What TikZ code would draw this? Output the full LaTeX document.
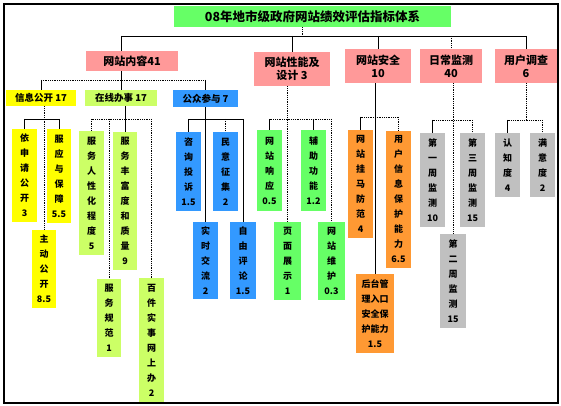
\documentclass[tikz,border=0pt]{standalone}
\usepackage{fontspec}
\newfontfamily\cjk{Noto Sans CJK SC}
\usetikzlibrary{backgrounds}
\definecolor{pk}{RGB}{255,153,153}
\definecolor{tg}{RGB}{102,255,102}
\definecolor{yl}{RGB}{255,255,0}
\definecolor{lg}{RGB}{204,255,102}
\definecolor{bl}{RGB}{51,153,255}
\definecolor{gr}{RGB}{102,255,102}
\definecolor{og}{RGB}{255,153,51}
\definecolor{gy}{RGB}{192,192,192}
\begin{document}
\begin{tikzpicture}[x=1pt,y=-1pt,
  bx/.style={inner sep=0pt, align=center, anchor=center, font=\cjk\bfseries\fontsize{9}{15}\selectfont},
  lv1/.style={bx, fill=pk, font=\cjk\bfseries\fontsize{11}{13}\selectfont},
  lv2/.style={bx, font=\cjk\bfseries\fontsize{9.5}{12}\selectfont},
  ln/.style={line width=0.7pt, black},
  dl/.style={line width=0.8pt, black, densely dotted}]
\useasboundingbox (0,0) rectangle (561,406);
% title and level 1
\node[bx, fill=tg, minimum width=277pt, minimum height=21pt, font=\cjk\bfseries\fontsize{12.5}{14}\selectfont] (root) at (312.5,16.5) {08年地市级政府网站绩效评估指标体系};
\node[lv1, minimum width=92pt, minimum height=20pt] (c1) at (132,61) {网站内容41};
\node[lv1, minimum width=76pt, minimum height=34pt] (c2) at (292,69) {网站性能及\\设计 3};
\node[lv1, minimum width=66pt, minimum height=34pt] (c3) at (378,66) {网站安全\\10};
\node[lv1, minimum width=62pt, minimum height=34pt] (c4) at (451,66) {日常监测\\40};
\node[lv1, minimum width=62pt, minimum height=34pt] (c5) at (526,66) {用户调查\\6};
% level 2
\node[lv2, fill=yl, minimum width=70pt, minimum height=16pt] (xxgk) at (41,98) {信息公开 17};
\node[lv2, fill=lg, minimum width=72pt, minimum height=16pt] (zxbs) at (121,98) {在线办事 17};
\node[lv2, fill=bl, minimum width=65pt, minimum height=17pt] (gzcy) at (205.5,98.5) {公众参与 7};
% leaves
\node[bx, fill=yl, minimum width=25pt, minimum height=93pt] (ysq) at (24.5,175.5) {依\\申\\请\\公\\开\\3};
\node[bx, fill=yl, minimum width=24pt, minimum height=94pt] (fyb) at (59,176) {服\\应\\与\\保\\障\\5.5};
\node[bx, fill=yl, minimum width=24pt, minimum height=78pt] (zd) at (44,269) {主\\动\\公\\开\\8.5};
\node[bx, fill=lg, minimum width=25pt, minimum height=124pt] (rxh) at (91.5,193) {服\\务\\人\\性\\化\\程\\度\\5};
\node[bx, fill=lg, minimum width=24pt, minimum height=138pt] (ffd) at (125,201) {服\\务\\丰\\富\\度\\和\\质\\量\\9};
\node[bx, fill=lg, minimum width=24pt, minimum height=78pt] (gf) at (109,318) {服\\务\\规\\范\\1};
\node[bx, fill=lg, minimum width=25pt, minimum height=124pt] (bj) at (151.5,340) {百\\件\\实\\事\\网\\上\\办\\2};
\node[bx, fill=bl, minimum width=25pt, minimum height=79pt] (zx) at (188.5,171.5) {咨\\询\\投\\诉\\1.5};
\node[bx, fill=bl, minimum width=25pt, minimum height=79pt] (my) at (225.5,171.5) {民\\意\\征\\集\\2};
\node[bx, fill=bl, minimum width=25pt, minimum height=77pt] (ss) at (205.5,260.5) {实\\时\\交\\流\\2};
\node[bx, fill=bl, minimum width=26pt, minimum height=77pt] (zy) at (243,260.5) {自\\由\\评\\论\\1.5};
\node[bx, fill=gr, minimum width=25pt, minimum height=81pt] (xy) at (269.5,170.5) {网\\站\\响\\应\\0.5};
\node[bx, fill=gr, minimum width=25pt, minimum height=81pt] (fz) at (313.5,170.5) {辅\\助\\功\\能\\1.2};
\node[bx, fill=gr, minimum width=27pt, minimum height=78pt] (ym) at (287.5,261) {页\\面\\展\\示\\1};
\node[bx, fill=gr, minimum width=27pt, minimum height=78pt] (wh) at (331.5,261) {网\\站\\维\\护\\0.3};
\node[bx, fill=og, minimum width=25pt, minimum height=108pt] (gm) at (360.5,184) {网\\站\\挂\\马\\防\\范\\4};
\node[bx, fill=og, minimum width=25pt, minimum height=137pt] (yh) at (398.5,199.5) {用\\户\\信\\息\\保\\护\\能\\力\\6.5};
\node[bx, fill=og, minimum width=38pt, minimum height=79pt] (ht) at (375,313.5) {后台管\\理入口\\安全保\\护能力\\1.5};
\node[bx, fill=gy, minimum width=25pt, minimum height=94pt] (w1) at (432.5,180) {第\\一\\周\\监\\测\\10};
\node[bx, fill=gy, minimum width=25pt, minimum height=94pt] (w3) at (472.5,180) {第\\三\\周\\监\\测\\15};
\node[bx, fill=gy, minimum width=26pt, minimum height=94pt] (w2) at (453,281) {第\\二\\周\\监\\测\\15};
\node[bx, fill=gy, minimum width=25pt, minimum height=64pt] (rz) at (507.5,165) {认\\知\\度\\4};
\node[bx, fill=gy, minimum width=25pt, minimum height=64pt] (myd) at (542.5,165) {满\\意\\度\\2};
% connectors
\coordinate (tb) at (0,36);
\coordinate (b2) at (0,80);
\coordinate (b3) at (0,119);
\coordinate (b4) at (0,117);
\coordinate (b5) at (0,120);
\coordinate (rd) at ([xshift=-10pt]root.south);
\begin{scope}[on background layer]
\fill[white] (0,0) rectangle (561,406);
\draw[dl] (rd) -- (rd |- tb);
\draw[ln] (zxbs.north |- tb) -- (c5.north |- tb);
\draw[ln] (zxbs.north |- tb) -- (zxbs.north);
\draw[ln] (c2.north |- tb) -- (c2.north);
\draw[ln] (c3.north |- tb) -- (c3.north);
\draw[dl] (c4.north |- tb) -- (c4.north);
\draw[ln] (c5.north |- tb) -- (c5.north);
% website content
\draw[dl] (xxgk.north |- b2) -- (gzcy.north |- b2);
\draw[ln] (xxgk.north |- b2) -- (xxgk.north);
\draw[ln] (gzcy.north |- b2) -- (gzcy.north);
% info disclosure
\draw[dl] (zd.north |- xxgk.south) -- (zd.north);
\draw[ln] (ysq.north |- b3) -- (fyb.north |- b3);
\draw[ln] (ysq.north |- b3) -- (ysq.north);
\draw[ln] (fyb.north |- b3) -- (fyb.north);
% online services
\draw[ln] (ffd.north |- zxbs.south) -- (ffd.north);
\draw[dl] (rxh.north |- b3) -- (bj.north |- b3);
\draw[dl] (rxh.north |- b3) -- (rxh.north);
\draw[dl] (gf.north |- b3) -- (gf.north);
\draw[dl] (bj.north |- b3) -- (bj.north);
% public participation
\draw[ln] (ss.north |- gzcy.south) -- (ss.north);
\draw[ln] (zx.north |- b3) -- (zy.north |- b3);
\draw[ln] (zx.north |- b3) -- (zx.north);
\draw[dl] (my.north |- b3) -- (my.north);
\draw[ln] (zy.north |- b3) -- (zy.north);
% performance
\draw[dl] (ym.north |- c2.south) -- (ym.north);
\draw[dl] (xy.north |- b3) -- (wh.north |- b3);
\draw[ln] (xy.north |- b3) -- (xy.north);
\draw[ln] (fz.north |- b3) -- (fz.north);
\draw[dl] (wh.north |- b3) -- (wh.north);
% security
\draw[ln] (ht.north |- c3.south) -- (ht.north);
\draw[dl] (gm.north |- b4) -- (yh.north |- b4);
\draw[ln] (gm.north |- b4) -- (gm.north);
\draw[dl] (yh.north |- b4) -- (yh.north);
% monitoring
\draw[dl] (w2.north |- c4.south) -- (w2.north);
\draw[dl] (w1.north |- b5) -- (w3.north |- b5);
\draw[ln] (w1.north |- b5) -- (w1.north);
\draw[dl] (w3.north |- b5) -- (w3.north);
% user survey
\draw[dl] (c5.south) -- (c5.south |- b5);
\draw[dl] (rz.north |- b5) -- (myd.north |- b5);
\draw[ln] (rz.north |- b5) -- (rz.north);
\draw[dl] (myd.north |- b5) -- (myd.north);
\end{scope}
\draw[line width=1.4pt] (4,4) rectangle (558,403);
\end{tikzpicture}
\end{document}
